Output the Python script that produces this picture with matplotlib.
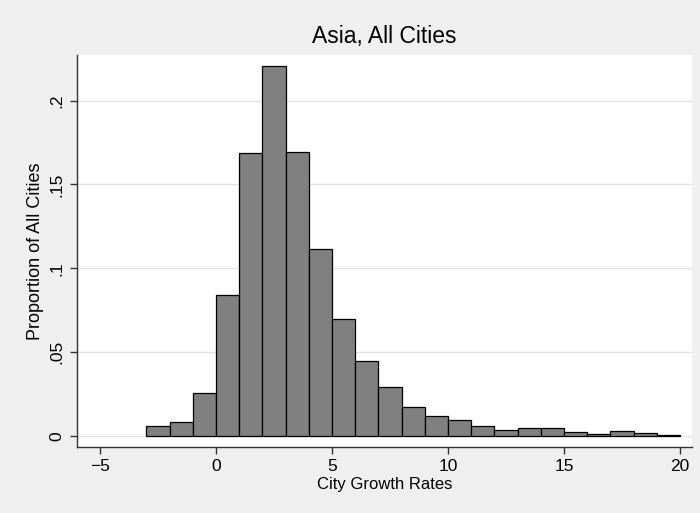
import matplotlib
matplotlib.use("Agg")
import matplotlib.pyplot as plt

plt.rcParams['font.family'] = ['Liberation Sans', 'DejaVu Sans']

# histogram of city growth rates, bins of width 1 starting at -3
bin_left = [-3, -2, -1, 0, 1, 2, 3, 4, 5, 6, 7, 8, 9, 10, 11, 12, 13, 14, 15, 16, 17, 18, 19]
proportion = [0.0061, 0.0081, 0.0256, 0.084, 0.1688, 0.2206, 0.1695, 0.1117, 0.0696,
              0.0447, 0.0292, 0.0171, 0.0117, 0.0097, 0.0058, 0.0038, 0.0046, 0.0046,
              0.0024, 0.0012, 0.0032, 0.0016, 0.0008]

x_ticks = [-5, 0, 5, 10, 15, 20]
y_ticks = [0, 0.05, 0.1, 0.15, 0.2]
y_tick_labels = ["0", ".05", ".1", ".15", ".2"]

BG = "#efefef"
AXIS = "#333333"

fig = plt.figure(figsize=(7.0, 5.13), dpi=100, facecolor=BG)
ax = fig.add_axes([77 / 700, 66 / 513, 615 / 700, 392 / 513])
ax.set_facecolor("white")

ax.bar(bin_left, proportion, width=1, align="edge", color="#808080",
       edgecolor="black", linewidth=0.9, zorder=3)

ax.set_xlim(-5.99, 20.52)
ax.set_ylim(-0.00656, 0.2272)

ax.set_xticks(x_ticks)
ax.set_yticks(y_ticks)
ax.set_yticklabels(y_tick_labels, rotation=90, va="center")

ax.yaxis.grid(True, color="#e4e4e4", linewidth=1.0, zorder=0)
ax.set_axisbelow(True)

for side in ["top", "right"]:
    ax.spines[side].set_visible(False)
for side in ["left", "bottom"]:
    ax.spines[side].set_color(AXIS)
    ax.spines[side].set_linewidth(1.0)

ax.tick_params(axis="x", length=5, width=1, color=AXIS, pad=3.5, labelsize=12.5)
ax.tick_params(axis="y", length=5, width=1, color=AXIS, pad=4, labelsize=12.5)

ax.set_xlabel("City Growth Rates", fontsize=12, labelpad=2)
ax.set_ylabel("Proportion of All Cities", fontsize=13, labelpad=4)
fig.text(384 / 700, 1 - 36 / 513, "Asia, All Cities", ha="center", va="center", fontsize=16.5)

fig.savefig("out.png", dpi=100, facecolor=BG)
